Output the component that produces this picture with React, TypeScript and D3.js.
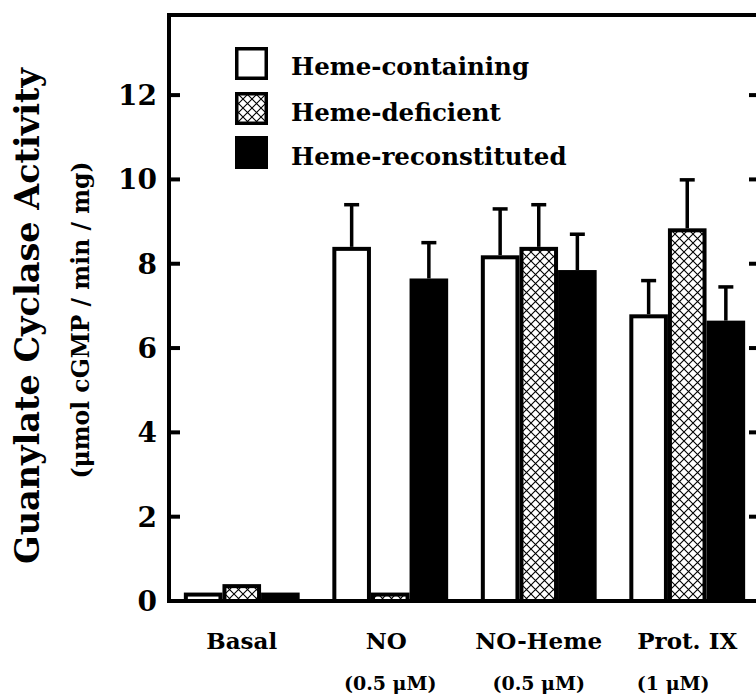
import React from "react";
import * as d3 from "d3";

const categories = ["Basal", "NO", "NO-Heme", "Prot. IX"];
const subLabels = ["", "(0.5 μM)", "(0.5 μM)", "(1 μM)"];
const seriesNames = ["Heme-containing", "Heme-deficient", "Heme-reconstituted"];
const hemeContaining = [0.2, 8.4, 8.2, 6.8];
const hemeDeficient = [0.4, 0.2, 8.4, 8.84];
const hemeReconstituted = [0.2, 7.65, 7.85, 6.65];
const errContaining = [0, 1.0, 1.1, 0.8];
const errDeficient = [0, 0, 1.0, 1.15];
const errReconstituted = [0, 0.85, 0.85, 0.8];
const yTicks = [0, 2, 4, 6, 8, 10, 12];
const yTickLabels = ["0", "2", "4", "6", "8", "10", "12"];

const W = 756;
const H = 695;
const FONT = "'DejaVu Serif', serif";

export default function App() {
  const left = 169;
  const right = 760;
  const top = 15;
  const bottom = 601;

  const y = d3.scaleLinear().domain([0, 13.9]).range([bottom, top]);
  const x0 = d3
    .scaleBand<string>()
    .domain(categories)
    .range([left, right])
    .paddingInner(0.22)
    .paddingOuter(0.1);
  const x1 = d3
    .scaleBand<string>()
    .domain(seriesNames)
    .range([0, x0.bandwidth()])
    .padding(0);

  const values = [hemeContaining, hemeDeficient, hemeReconstituted];
  const errs = [errContaining, errDeficient, errReconstituted];
  const fills = ["#ffffff", "url(#xhatch)", "#000000"];
  const sw = 4;

  const bars: React.ReactNode[] = [];
  const errBars: React.ReactNode[] = [];
  categories.forEach((c, ci) => {
    seriesNames.forEach((s, si) => {
      const v = values[si][ci];
      const bx = (x0(c) ?? 0) + (x1(s) ?? 0);
      const bw = x1.bandwidth();
      const yt = y(v);
      bars.push(
        <rect
          key={`b-${ci}-${si}`}
          x={bx + sw / 2}
          y={yt + sw / 2}
          width={bw - sw}
          height={Math.max(0, bottom - yt - sw / 2)}
          fill={fills[si]}
          stroke="#000"
          strokeWidth={sw}
        />
      );
      const e = errs[si][ci];
      if (e > 0) {
        const cx = bx + bw / 2;
        const ye = y(v + e);
        errBars.push(
          <g key={`e-${ci}-${si}`} stroke="#000" strokeWidth={3.5}>
            <line x1={cx} x2={cx} y1={yt} y2={ye} />
            <line x1={cx - 7.5} x2={cx + 7.5} y1={ye} y2={ye} />
          </g>
        );
      }
    });
  });

  const legendY = [47, 92, 136];
  const legendBase = [75, 121, 165];

  return (
    <div style={{ position: "absolute", left: 0, top: 0 }}>
      <svg width={W} height={H} style={{ display: "block", background: "#fff" }}>
        <defs>
          <pattern id="xhatch" patternUnits="userSpaceOnUse" width={9} height={9}>
            <rect width={9} height={9} fill="#fff" />
            <path d="M0,0 L9,9 M9,0 L0,9" stroke="#000" strokeWidth={1.1} />
          </pattern>
        </defs>

        {errBars}
        {bars}

        <g stroke="#000" strokeWidth={4} fill="none">
          <line x1={left} x2={left} y1={top - 2} y2={bottom + 2} />
          <line x1={left - 2} x2={right} y1={top} y2={top} />
          <line x1={left - 2} x2={right} y1={bottom} y2={bottom} />
          <line x1={right} x2={right} y1={top} y2={bottom} />
        </g>

        {yTicks.map((t, i) => (
          <g key={`t-${i}`}>
            {t > 0 && (
              <>
                <line x1={left} x2={left + 11} y1={y(t)} y2={y(t)} stroke="#000" strokeWidth={4} />
                <line x1={right - 11} x2={right} y1={y(t)} y2={y(t)} stroke="#000" strokeWidth={4} />
              </>
            )}
            <text
              x={157}
              y={y(t)}
              dy="0.36em"
              textAnchor="end"
              fontFamily={FONT}
              fontWeight="bold"
              fontSize={28}
            >
              {yTickLabels[i]}
            </text>
          </g>
        ))}

        {categories.map((c, i) => {
          const cx = (x0(c) ?? 0) + x0.bandwidth() / 2;
          return (
            <g key={`xl-${i}`}>
              <text x={cx - (i === 1 ? 4 : 0)} y={649} textAnchor="middle" fontFamily={FONT} fontWeight="bold" fontSize={23}>
                {c}
              </text>
              {subLabels[i] && (
                <text x={cx - (i === 3 ? 14 : 0)} y={690} textAnchor="middle" fontFamily={FONT} fontWeight="bold" fontSize={19}>
                  {subLabels[i]}
                </text>
              )}
            </g>
          );
        })}

        <text
          transform="translate(27,316) rotate(-90)"
          textAnchor="middle"
          dy="0.35em"
          fontFamily={FONT}
          fontWeight="bold"
          fontSize={33.5}
        >
          Guanylate Cyclase Activity
        </text>
        <text
          transform="translate(81,320) rotate(-90)"
          textAnchor="middle"
          dy="0.35em"
          fontFamily={FONT}
          fontWeight="bold"
          fontSize={23.5}
        >
          (μmol cGMP / min / mg)
        </text>

        {seriesNames.map((s, i) => (
          <g key={`lg-${i}`}>
            <rect
              x={235 + 1.75}
              y={legendY[i] + 1.75}
              width={33 - 3.5}
              height={33 - 3.5}
              fill={fills[i]}
              stroke="#000"
              strokeWidth={3.5}
            />
            <text x={291} y={legendBase[i]} fontFamily={FONT} fontWeight="bold" fontSize={24.5}>
              {s}
            </text>
          </g>
        ))}
      </svg>
    </div>
  );
}
